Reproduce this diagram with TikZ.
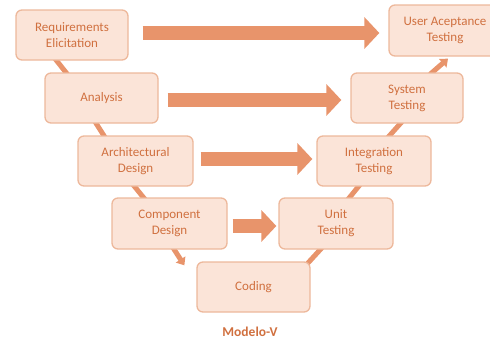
\documentclass[tikz,border=0pt]{standalone}
\usepackage{fontspec}
\setmainfont{Carlito}
\usetikzlibrary{arrows.meta,calc,backgrounds}
\definecolor{boxfill}{HTML}{FBE4D8}
\definecolor{boxline}{HTML}{EDB89B}
\definecolor{boxtext}{HTML}{D0703F}
\definecolor{flow}{HTML}{E8946B}
\tikzset{
  phase/.style={draw=boxline, line width=1.3pt, fill=boxfill, rounded corners=6pt,
    minimum width=113pt, minimum height=50pt, align=center, text=boxtext,
    font=\fontsize{13}{16}\selectfont, inner sep=2pt},
  link/.style={draw=flow, line width=5pt},
  linkarrow/.style={link, -{Triangle[length=7pt,width=11pt]}},
  bigarrow/.style={draw=flow, line width=13.5pt, -{Triangle[length=15pt,width=31pt]}},
  title/.style={text=boxtext, font=\bfseries\fontsize{13.5}{15}\selectfont}
}
\begin{document}
\begin{tikzpicture}[x=1pt,y=-1pt]
\useasboundingbox (0,0) rectangle (490,340);
% left leg of the V
\node[phase, minimum width=112pt] (req) at (72,35) {Requirements\\Elicitation};
\node[phase] (ana) at (101.5,98) {Analysis};
\node[phase, minimum width=115pt] (arch) at (135.5,161) {Architectural\\Design};
\node[phase, minimum width=115pt, minimum height=51pt] (comp) at (169.5,223.5) {Component\\Design};
% bottom
\node[phase] (code) at (253.5,287) {Coding};
% right leg of the V
\node[phase, minimum width=114pt, minimum height=51pt] (unit) at (336,223.5) {Unit\\Testing};
\node[phase, minimum width=114pt] (integ) at (374,161) {Integration\\Testing};
\node[phase, minimum width=112pt] (sys) at (407,98) {System\\Testing};
\node[phase, minimum width=112pt, minimum height=51pt] (uat) at (445,30.5) {User Aceptance\\Testing};
\node[title] (name) at (250,332) {Modelo-V};

% thin links between consecutive phases, kept behind the boxes
\begin{pgfonlayer}{background}
\draw[link] ($(req.south)+(-17,-2)$) -- ($(ana.north)+(-34,2)$);
\draw[link] ($(ana.south)+(-6.5,-2)$) -- ($(arch.north)+(-30.5,2)$);
\draw[link] ($(arch.south)+(-2.5,-2)$) -- ($(comp.north)+(-24.5,2)$);
\draw[linkarrow] ($(comp.south)+(3.5,-2)$) -- ($(code.north west)+(-12,4)$);
\draw[link] ($(code.north east)+(-3,2)$) -- ($(unit.south)+(-14,-2)$);
\draw[link] ($(unit.north)+(12,2)$) -- ($(integ.south)+(-14,-2)$);
\draw[link] ($(integ.north)+(14,2)$) -- ($(sys.south)+(-5,-2)$);
\draw[linkarrow] ($(sys.north)+(23,2)$) -- ($(uat.south)+(3,2)$);
\end{pgfonlayer}

% wide arrows from each design phase to its test phase
\draw[bigarrow] ($(req.east)+(14,-2)$) -- ($(req.east -| uat.west)+(-9,-2)$);
\draw[bigarrow] ($(ana.east)+(9,2)$) -- ($(ana.east -| sys.west)+(-9,2)$);
\draw[bigarrow] ($(arch.east)+(7,-2)$) -- ($(arch.east -| integ.west)+(-4,-2)$);
\draw[bigarrow] ($(comp.east)+(5,2.5)$) -- ($(comp.east -| unit.west)+(-2,2.5)$);
\end{tikzpicture}
\end{document}
